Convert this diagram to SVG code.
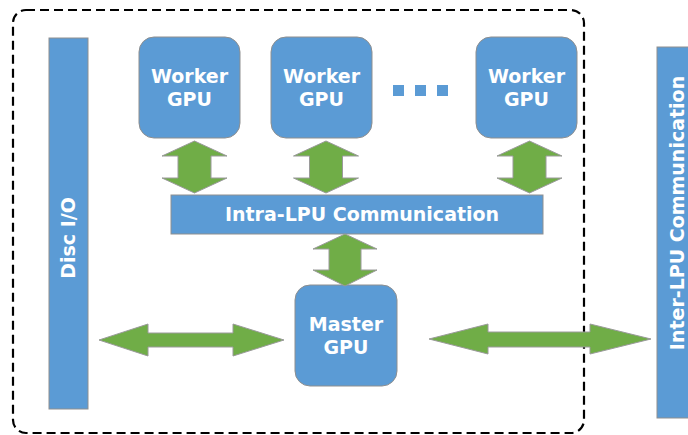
<svg xmlns="http://www.w3.org/2000/svg" width="688" height="435" viewBox="0 0 688 435">
<style>
.box{fill:#5B9BD5;stroke:#8f8f8f;stroke-width:1}
.arr{fill:#70AD47;stroke:#9a9a9a;stroke-width:1}
.t{fill:#ffffff;font-family:"DejaVu Sans",sans-serif;font-weight:bold;font-size:19px;text-anchor:middle}
.dot{fill:#5B9BD5}
</style>
<rect x="0" y="0" width="688" height="435" fill="#ffffff"/>
<rect id="boundary" x="13" y="10" width="571" height="423" rx="13" ry="13" fill="none" stroke="#000000" stroke-width="2.2" stroke-dasharray="9,5"/>
<g id="disc-io">
<rect class="box" x="49" y="38" width="39" height="371"/>
<text class="t" transform="translate(75,238) rotate(-90)">Disc I/O</text>
</g>
<g id="worker1">
<rect class="box" x="139" y="37" width="101" height="101" rx="15" ry="15"/>
<text class="t" x="189.5" y="83">Worker</text>
<text class="t" x="189.5" y="106">GPU</text>
</g>
<g id="worker2">
<rect class="box" x="271" y="37" width="101" height="101" rx="15" ry="15"/>
<text class="t" x="321.5" y="83">Worker</text>
<text class="t" x="321.5" y="106">GPU</text>
</g>
<g id="ellipsis">
<rect class="dot" x="393" y="85" width="11" height="11"/>
<rect class="dot" x="415" y="85" width="11" height="11"/>
<rect class="dot" x="437" y="85" width="11" height="11"/>
</g>
<g id="worker3">
<rect class="box" x="476" y="37" width="101" height="101" rx="15" ry="15"/>
<text class="t" x="526.5" y="83">Worker</text>
<text class="t" x="526.5" y="106">GPU</text>
</g>
<g id="intra-lpu">
<rect class="box" x="171" y="195" width="372" height="39"/>
<text class="t" x="362" y="221">Intra-LPU Communication</text>
</g>
<g id="master">
<rect class="box" x="295" y="285" width="102" height="101" rx="15" ry="15"/>
<text class="t" x="346" y="331">Master</text>
<text class="t" x="346" y="354">GPU</text>
</g>
<g id="inter-lpu">
<rect class="box" x="657" y="47" width="40" height="371"/>
<text class="t" transform="translate(684,213) rotate(-90)" font-size="19.5">Inter-LPU Communication</text>
</g>
<g id="connectors">
<path class="arr" d="M194.5,141 L227,156 L211,156 L211,178 L227,178 L194.5,193 L162,178 L178,178 L178,156 L162,156 Z"/>
<path class="arr" d="M326,141 L358.5,156 L342.5,156 L342.5,178 L358.5,178 L326,193 L293.5,178 L309.5,178 L309.5,156 L293.5,156 Z"/>
<path class="arr" d="M529.5,141 L562,156 L546,156 L546,178 L562,178 L529.5,193 L497,178 L513,178 L513,156 L497,156 Z"/>
<path class="arr" d="M345,234 L377,249 L361,249 L361,270 L377,270 L345,286 L313,270 L329,270 L329,249 L313,249 Z"/>
<path class="arr" d="M99,340 L148,324 L148,333 L233,333 L233,324 L284,340 L233,356 L233,347 L148,347 L148,356 Z"/>
<path class="arr" d="M429,339 L488,324 L488,332 L590,332 L590,324 L651,339 L590,354 L590,347 L488,347 L488,354 Z"/>
</g>
</svg>
